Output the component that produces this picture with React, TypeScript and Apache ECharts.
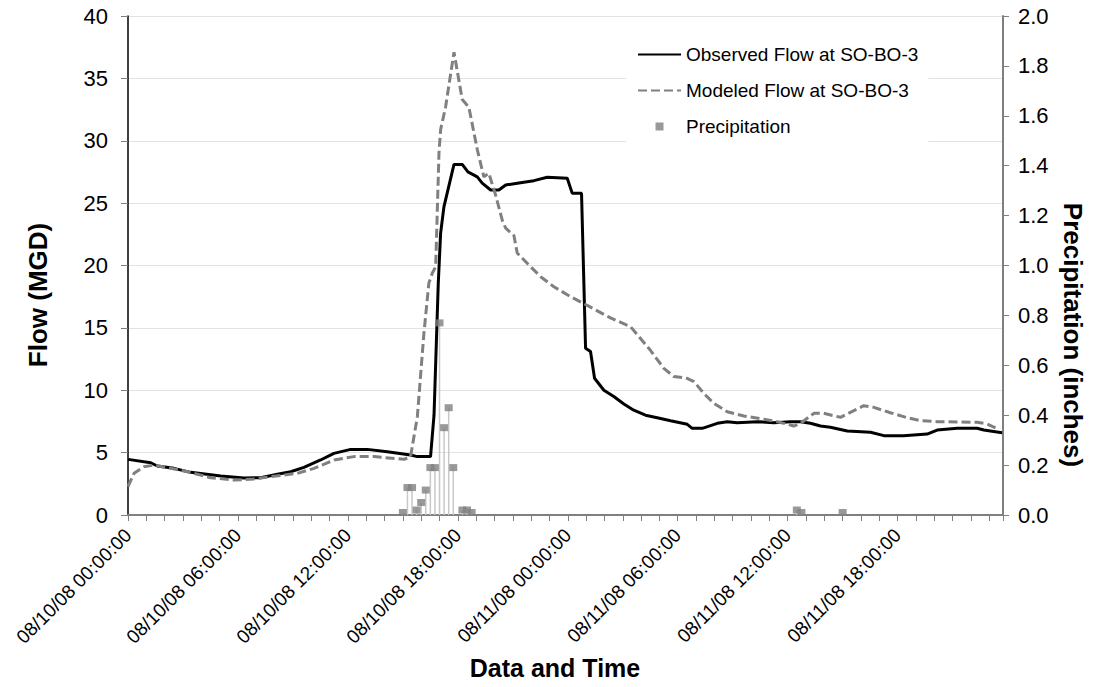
import React, { useEffect, useRef } from 'react';
import * as echarts from 'echarts';

const FONT = "'Liberation Sans', Arial, Helvetica, sans-serif";

// x tick labels every 6 hours (x values are hours since 08/10/08 00:00)
const xTickLabels = [
  '08/10/08 00:00:00',
  '08/10/08 06:00:00',
  '08/10/08 12:00:00',
  '08/10/08 18:00:00',
  '08/11/08 00:00:00',
  '08/11/08 06:00:00',
  '08/11/08 12:00:00',
  '08/11/08 18:00:00',
];

const observedHours = [
  0, 1.24, 1.6, 2.51, 3.42, 5.06, 6.33, 7.24, 8.15, 8.88, 9.6, 10.51, 11.24, 12.15, 13.06,
  14.15, 15.42, 15.79, 16.51, 16.7, 16.82, 16.93, 17.06, 17.24, 17.79, 18.24, 18.55, 19.06,
  19.33, 19.79, 20.24, 20.61, 21.42, 22.15, 22.88, 23.97, 24.24, 24.75, 24.97, 25.24, 25.46,
  25.97, 26.51, 27.06, 27.6, 28.24, 28.88, 29.61, 30.52, 30.79, 31.34, 32.16, 32.7, 33.25,
  34.34, 35.24, 36.15, 36.7, 37.24, 37.79, 38.33, 39.25, 40.52, 41.25, 42.33, 43.61, 44.16,
  45.25, 46.34, 46.7, 47.7,
];
const observedFlow = [
  4.46, 4.19, 3.93, 3.74, 3.42, 3.13, 2.97, 2.99, 3.26, 3.47, 3.82, 4.41, 4.94, 5.26, 5.26,
  5.07, 4.81, 4.68, 4.68, 8.0, 13.5, 18.5, 22.6, 24.7, 28.1, 28.1, 27.5, 27.1, 26.6, 26.05,
  26.05, 26.45, 26.64, 26.8, 27.07, 26.99, 25.8, 25.79, 13.36, 13.1, 10.96, 10.0, 9.5, 8.9,
  8.4, 8.0, 7.8, 7.56, 7.27, 6.95, 6.95, 7.35, 7.48, 7.4, 7.48, 7.4, 7.48, 7.48, 7.35, 7.13,
  7.03, 6.73, 6.63, 6.36, 6.36, 6.49, 6.81, 6.95, 6.95, 6.81, 6.6,
];

const modeledHours = [
  0, 0.33, 0.87, 1.42, 2.33, 3.24, 4.51, 5.78, 6.87, 7.79, 9.24, 10.15, 11.24, 12.33, 13.42,
  15.06, 15.42, 15.79, 16.15, 16.42, 16.61, 16.79, 16.97, 17.06, 17.33, 17.79, 18.24, 18.6,
  19.06, 19.42, 19.69, 20.06, 20.43, 20.61, 21.06, 21.24, 21.97, 22.52, 23.24, 24.15, 25.06,
  26.33, 27.42, 28.51, 29.24, 29.79, 30.43, 30.88, 31.42, 31.97, 32.7, 33.61, 34.7, 35.43,
  36.15, 36.33, 36.7, 37.43, 37.97, 38.88, 39.42, 40.15, 40.7, 41.6, 42.52, 43.24, 44.16,
  46.34, 46.88, 47.52,
];
const modeledFlow = [
  2.27, 3.34, 3.87, 4.0, 3.74, 3.47, 2.99, 2.8, 2.89, 3.07, 3.34, 3.74, 4.41, 4.68, 4.68,
  4.46, 4.68, 7.88, 14.6, 18.6, 19.4, 19.9, 29.0, 30.9, 32.7, 37.1, 33.3, 32.7, 29.3, 27.1,
  27.4, 25.65, 23.6, 23.0, 22.4, 21.0, 19.9, 19.1, 18.3, 17.5, 16.8, 15.8, 15.1, 13.2, 11.76,
  11.1, 11.0, 10.7, 9.75, 8.95, 8.28, 7.94, 7.67, 7.48, 7.21, 7.13, 7.35, 8.15, 8.15, 7.83,
  8.23, 8.76, 8.63, 8.2, 7.8, 7.56, 7.48, 7.43, 7.3, 6.87,
];

const precipHours = [
  15.0, 15.25, 15.5, 15.75, 16.0, 16.25, 16.5, 16.75, 17.0, 17.25, 17.5, 17.75, 18.25, 18.5,
  18.75, 36.5, 36.75, 39.0,
];
const precipInches = [
  0.01, 0.11, 0.11, 0.02, 0.05, 0.1, 0.19, 0.19, 0.77, 0.35, 0.43, 0.19, 0.02, 0.02, 0.01,
  0.02, 0.01, 0.01,
];

const zip = (xs: number[], ys: number[]) => xs.map((x, i) => [x, ys[i]]);

const hiddenSymbol = { color: 'rgba(0,0,0,0)', borderColor: 'rgba(0,0,0,0)', borderWidth: 0 };

export default function App() {
  const ref = useRef<HTMLDivElement>(null);

  useEffect(() => {
    document.body.style.margin = '0';
    const chart = echarts.init(ref.current!, null, { renderer: 'svg' });
    const precipData = zip(precipHours, precipInches);
    chart.setOption({
      animation: false,
      textStyle: { fontFamily: FONT },
      grid: { left: 128, right: 94, top: 16, bottom: 172, containLabel: false },
      legend: {
        orient: 'vertical',
        left: 626,
        top: 35,
        padding: [10, 10, 10, 11],
        backgroundColor: '#ffffff',
        itemWidth: 43,
        itemHeight: 8,
        itemGap: 17,
        itemTextGap: 3,
        selectedMode: false,
        textStyle: { fontSize: 19, fontFamily: FONT, color: '#000', lineHeight: 17 },
        data: [
          { name: 'Observed Flow at SO-BO-3', itemStyle: hiddenSymbol },
          { name: 'Modeled Flow at SO-BO-3', itemStyle: hiddenSymbol },
          { name: 'Precipitation', icon: 'path://M0 0H10V10H0Z' },
        ],
      },
      xAxis: {
        type: 'value',
        min: 0,
        max: 47.75,
        interval: 1,
        axisLine: { show: true, onZero: false, lineStyle: { color: '#808080', width: 2 } },
        axisTick: { show: true, length: 6, lineStyle: { color: '#808080', width: 1 } },
        splitLine: { show: false },
        axisLabel: {
          rotate: 45,
          margin: 17,
          fontSize: 19,
          color: '#000',
          fontFamily: FONT,
          formatter: (v: number) => {
            const r = Math.round(v);
            if (Math.abs(v - r) > 1e-6 || r % 6 !== 0) return '';
            return xTickLabels[r / 6] ?? '';
          },
        },
      },
      yAxis: [
        {
          type: 'value',
          min: 0,
          max: 40,
          interval: 5,
          position: 'left',
          axisLine: { show: true, lineStyle: { color: '#000', width: 1.5 } },
          axisTick: { show: true, length: 7, lineStyle: { color: '#808080' } },
          axisLabel: { fontSize: 22, margin: 20, color: '#000', fontFamily: FONT },
          splitLine: { show: true, lineStyle: { color: '#e2e2e2', width: 1 } },
        },
        {
          type: 'value',
          min: 0,
          max: 2,
          interval: 0.2,
          position: 'right',
          axisLine: { show: true, lineStyle: { color: '#808080', width: 2 } },
          axisTick: { show: true, length: 6, lineStyle: { color: '#808080' } },
          axisLabel: {
            fontSize: 22,
            margin: 15,
            color: '#000',
            fontFamily: FONT,
            formatter: (v: number) => v.toFixed(1),
          },
          splitLine: { show: false },
        },
      ],
      graphic: [
        {
          type: 'text',
          x: 38,
          y: 295,
          rotation: Math.PI / 2,
          style: {
            text: 'Flow (MGD)',
            fontSize: 26,
            fontWeight: 'bold',
            fontFamily: FONT,
            fill: '#000',
            align: 'center',
            verticalAlign: 'middle',
          },
        },
        {
          type: 'text',
          x: 1073,
          y: 335,
          rotation: -Math.PI / 2,
          style: {
            text: 'Precipitation (inches)',
            fontSize: 26,
            fontWeight: 'bold',
            fontFamily: FONT,
            fill: '#000',
            align: 'center',
            verticalAlign: 'middle',
          },
        },
        {
          type: 'text',
          x: 555,
          y: 668,
          style: {
            text: 'Data and Time',
            fontSize: 25,
            fontWeight: 'bold',
            fontFamily: FONT,
            fill: '#000',
            align: 'center',
            verticalAlign: 'middle',
          },
        },
      ],
      series: [
        {
          name: 'Precipitation stems',
          type: 'bar',
          yAxisIndex: 1,
          data: precipData,
          barWidth: 1.5,
          itemStyle: { color: '#c8c8c8' },
          silent: true,
          z: 1,
        },
        {
          name: 'Observed Flow at SO-BO-3',
          type: 'line',
          data: zip(observedHours, observedFlow),
          symbol: 'none',
          showSymbol: false,
          lineStyle: { color: '#000', width: 3 },
          itemStyle: { color: '#000' },
          z: 3,
        },
        {
          name: 'Modeled Flow at SO-BO-3',
          type: 'line',
          data: zip(modeledHours, modeledFlow),
          symbol: 'none',
          showSymbol: false,
          lineStyle: { color: '#808080', width: 3, type: [9, 4] },
          itemStyle: { color: '#808080' },
          z: 3,
        },
        {
          name: 'Precipitation',
          type: 'scatter',
          yAxisIndex: 1,
          data: precipData,
          symbol: 'rect',
          symbolSize: [8, 7],
          itemStyle: { color: '#808080' },
          z: 4,
        },
      ],
    });
    return () => chart.dispose();
  }, []);

  return <div ref={ref} style={{ width: 1097, height: 687 }} />;
}
